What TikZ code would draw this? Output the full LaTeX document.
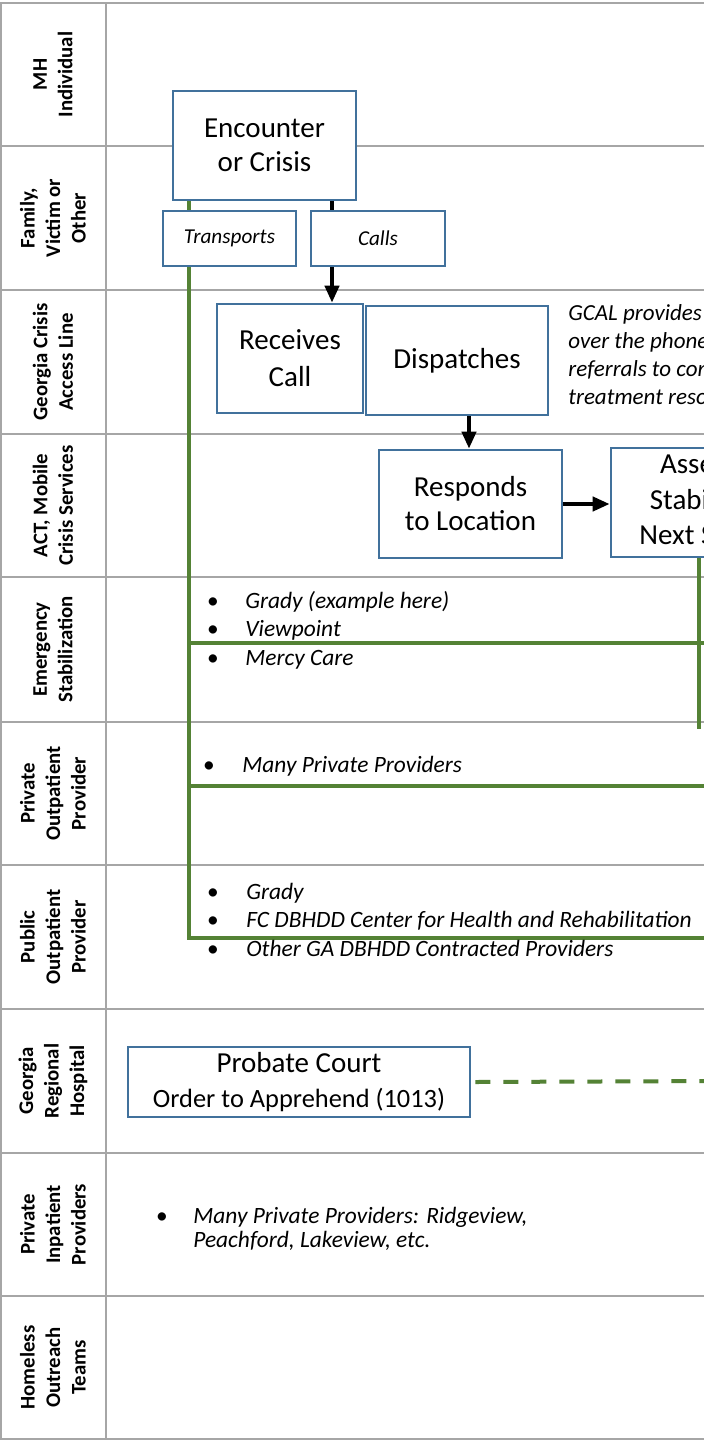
\documentclass[tikz,border=0pt]{standalone}
\usepackage{fontspec}
\setmainfont{Carlito}
\usetikzlibrary{arrows.meta}

\definecolor{gridgray}{HTML}{A6A6A6}
\definecolor{boxblue}{HTML}{41719C}
\definecolor{flowgreen}{HTML}{548235}

\pgfdeclarelayer{gridlayer}
\pgfdeclarelayer{linklayer}
\pgfsetlayers{gridlayer,linklayer,main}

\begin{document}
\begin{tikzpicture}[x=0.5pt,y=-0.5pt,
  lane/.style={gridgray, line width=1.35pt},
  lanelabel/.style={rotate=90, align=center, inner sep=0pt,
    font=\bfseries\fontsize{10.4}{12.75}\selectfont},
  stepbox/.style={draw=boxblue, line width=1.3pt, fill=white, align=center,
    inner sep=0pt, font=\fontsize{14.5}{17}\selectfont},
  actbox/.style={draw=boxblue, line width=1.3pt, fill=white, inner sep=0pt,
    minimum height=27.5pt, font=\itshape\fontsize{10.6}{12.75}\selectfont},
  flow/.style={-{Triangle[length=8.5pt,width=7pt]}, line width=2pt, black},
  greenlink/.style={flowgreen, line width=1.8pt},
  note/.style={anchor=base west, inner sep=0pt, font=\itshape\fontsize{11.5}{14}\selectfont},
  item/.style={anchor=base west, inner sep=0pt, font=\itshape\fontsize{11.7}{14}\selectfont},
  dot/.style={anchor=base, inner sep=0pt, font=\fontsize{11.7}{14}\selectfont},
]
\useasboundingbox (0,0) rectangle (704,1440);
\clip (0,0) rectangle (704,1440);

% ---------- swim-lane grid ----------
\begin{pgfonlayer}{gridlayer}
  \clip (0,0) rectangle (704,1440);
  \fill[white] (0,0) rectangle (704,1440);
  \draw[lane] (720,3) -- (1,3) -- (1,1439) -- (720,1439);
  \draw[lane] (106,3) -- (106,1439);
  \foreach \y in {146,290,434,577,722,865,1009,1153,1296}
    \draw[lane] (1,\y) -- (720,\y);
\end{pgfonlayer}

% ---------- lane titles ----------
\node[lanelabel] (lmh)   at (53,74.5)  {MH\\Individual};
\node[lanelabel] (lfam)  at (53,218)   {Family,\\Victim or\\Other};
\node[lanelabel] (lgcal) at (53,362)   {Georgia Crisis\\Access Line};
\node[lanelabel] (lact)  at (53,505.5) {ACT, Mobile\\Crisis Services};
\node[lanelabel] (lems)  at (53,649.5) {Emergency\\Stabilization};
\node[lanelabel] (lpriv) at (53,793.5) {Private\\Outpatient\\Provider};
\node[lanelabel] (lpub)  at (53,937)   {Public\\Outpatient\\Provider};
\node[lanelabel] (lgrh)  at (53,1081)  {Georgia\\Regional\\Hospital};
\node[lanelabel] (linp)  at (53,1224.5){Private\\Inpatient\\Providers};
\node[lanelabel] (lhot)  at (53,1367.5){Homeless\\Outreach\\Teams};

% ---------- process boxes ----------
\node[stepbox, minimum width=91.5pt, minimum height=54.5pt] (enc) at (264.5,145.5) {Encounter\\or Crisis};
\node[actbox, minimum width=66.5pt] (trans) at (229.5,238.5) {Transports};
\node[actbox, minimum width=67pt]   (calls) at (378,238.5)   {Calls};
\node[stepbox, minimum width=73pt, minimum height=54.5pt, font=\fontsize{14.5}{18.5}\selectfont] (recv) at (290,358.5) {Receives\\Call};
\node[stepbox, minimum width=91pt, minimum height=54.5pt] (disp) at (457,360.5) {Dispatches};
\node[stepbox, minimum width=91.5pt, minimum height=54pt] (resp) at (470.5,504) {Responds\\to Location};
\node[stepbox, minimum width=91pt, minimum height=54.5pt, font=\fontsize{14.5}{17.75}\selectfont] (assess) at (702,502.5) {Assess,\\Stabilize,\\Next Steps};
\node[stepbox, minimum width=171pt, minimum height=35pt] (court) at (299,1082)
  {Probate Court\\[0.5pt]{\fontsize{13.2}{16}\selectfont Order to Apprehend (1013)}};

% ---------- GCAL note ----------
\node[note] (gcal1) at (568,320) {GCAL provides crisis support};
\node[note] (gcal2) at (568,348) {over the phone and makes};
\node[note] (gcal3) at (568,376) {referrals to community};
\node[note] (gcal4) at (568,404) {treatment resources.};

% ---------- provider lists ----------
\node[dot]  (ems1b) at (213,608) {•};
\node[item] (ems1)  at (245,608) {Grady (example here)};
\node[dot]  (ems2b) at (213,636) {•};
\node[item] (ems2)  at (245,636) {Viewpoint};
\node[dot]  (ems3b) at (213,665) {•};
\node[item] (ems3)  at (245,665) {Mercy Care};

\node[dot]  (priv1b) at (209,772) {•};
\node[item] (priv1)  at (242,772) {Many Private Providers};

\node[dot]  (pub1b) at (213,899) {•};
\node[item] (pub1)  at (246,899) {Grady};
\node[dot]  (pub2b) at (213,927) {•};
\node[item] (pub2)  at (246,927) {FC DBHDD Center for Health and Rehabilitation};
\node[dot]  (pub3b) at (213,956) {•};
\node[item] (pub3)  at (246,956) {Other GA DBHDD Contracted Providers};

\node[dot]  (inp1b) at (162,1223) {•};
\node[item] (inp1)  at (193,1223) {Many Private Providers: Ridgeview,};
\node[item] (inp2)  at (193,1247) {Peachford, Lakeview, etc.};

% ---------- connector ends and junctions ----------
\coordinate (emsjoin)  at (190,643);
\coordinate (emsend)   at (720,643);
\coordinate (privjoin) at (190,786);
\coordinate (privend)  at (720,786);
\coordinate (pubend)   at (720,938);
\coordinate (emsfoot)  at (699,729);
\coordinate (courtend) at (720,1081);

% ---------- connectors ----------
\begin{pgfonlayer}{linklayer}
  \clip (0,0) rectangle (704,1440);
  \draw[greenlink] ([xshift=8.5pt]enc.south west) |- (pubend);
  \draw[greenlink] (emsjoin) -- (emsend);
  \draw[greenlink] (privjoin) -- (privend);
  \draw[greenlink] ([xshift=-1.5pt]assess.south) -- (emsfoot);
  \draw[flow] ([xshift=33.75pt]enc.south) -- ([xshift=33.75pt]enc.south |- recv.north);
  \draw[flow] ([xshift=6pt]disp.south) -- ([xshift=6pt]disp.south |- resp.north);
  \draw[flow] (resp.east) -- (resp.east -| assess.west);
  \draw[flowgreen, line width=2pt, dash pattern=on 7.5pt off 6.5pt] ([xshift=2pt]court.east) -- (courtend);
\end{pgfonlayer}
\end{tikzpicture}
\end{document}
